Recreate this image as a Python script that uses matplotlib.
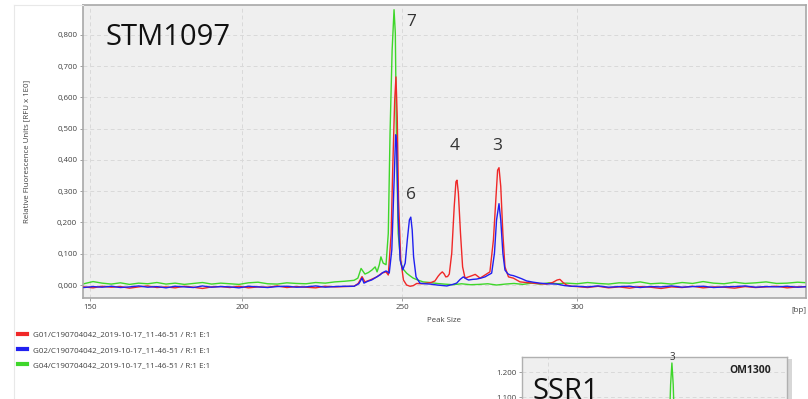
import numpy as np
import matplotlib
matplotlib.use('Agg')
import matplotlib.pyplot as plt
from matplotlib.lines import Line2D
from matplotlib.patches import Rectangle
from matplotlib.ticker import FuncFormatter

plt.rcParams['font.family'] = ['Open Sans', 'DejaVu Sans']

# size ladder -> scan position (the bp axis is not linear)
ladder_bp = [100, 150, 200, 250, 300, 400]
ladder_scan = [-62, 90, 242, 402, 577, 927]

xticks_bp = [150, 200, 250, 300]
yticks_rfu = [0.0, 0.1, 0.2, 0.3, 0.4, 0.5, 0.6, 0.7, 0.8]

sample_labels = ['G01/C190704042_2019-10-17_11-46-51 / R:1 E:1',
                 'G02/C190704042_2019-10-17_11-46-51 / R:1 E:1',
                 'G04/C190704042_2019-10-17_11-46-51 / R:1 E:1']
sample_colors = ['#f02828', '#2020f0', '#3ed62a']

left_bp = [148, 151, 154, 157, 160, 163, 166, 169, 172, 175, 178, 181, 184, 187, 190,
           193, 196, 199, 202, 205, 208, 211, 214, 217, 220, 223, 226, 229, 232]
right_bp = [300, 303, 306, 309, 312, 315, 318, 321, 324, 327, 330, 333, 336, 339, 342,
            345, 348, 351, 354, 357, 360, 363, 366]

# G01 (red)
red_left = [-0.006, -0.009, -0.004, -0.007, -0.005, -0.010, -0.006, -0.003, -0.008, -0.006,
            -0.009, -0.004, -0.007, -0.011, -0.006, -0.005, -0.008, -0.004, -0.009, -0.006,
            -0.007, -0.003, -0.008, -0.005, -0.007, -0.009, -0.004, -0.006, -0.005]
red_mid_bp = [235.0, 236.3, 237.5, 238.4, 240.0, 242.1, 243.7, 245.0, 245.7, 246.6, 247.1,
              247.7, 248.1, 248.5, 248.9, 249.6, 250.4, 251.3, 252.3, 253.2, 254.2, 255.6,
              257.1, 258.3, 259.4, 260.3, 260.9, 261.5, 262.0, 262.5, 263.0, 263.5, 264.2,
              264.9, 265.4, 265.7, 266.1, 266.7, 267.3, 268.0, 269.0, 270.0, 270.9, 271.6,
              272.3, 273.0, 273.7, 275.1, 276.1, 276.9, 277.3, 277.7, 278.2, 278.8, 279.4,
              280.4, 281.8, 283.7, 285.5, 287.5, 289.5, 291.3, 293.0, 294.3, 295.1, 296.0,
              297.0, 298.5]
red_mid = [-0.004, 0.005, 0.027, 0.010, 0.016, 0.026, 0.038, 0.042, 0.032, 0.165, 0.377,
           0.590, 0.665, 0.537, 0.272, 0.080, 0.016, 0.000, -0.004, -0.002, 0.005, 0.004,
           0.006, 0.008, 0.013, 0.028, 0.036, 0.042, 0.036, 0.026, 0.027, 0.035, 0.102,
           0.250, 0.330, 0.335, 0.293, 0.165, 0.058, 0.022, 0.026, 0.030, 0.034, 0.028,
           0.022, 0.027, 0.032, 0.042, 0.144, 0.293, 0.367, 0.375, 0.315, 0.165, 0.058,
           0.026, 0.022, 0.010, 0.008, 0.006, 0.004, 0.003, 0.008, 0.016, 0.018, 0.008,
           0.000, -0.004]
red_right = [-0.005, -0.008, -0.004, -0.009, -0.006, -0.010, -0.005, -0.007, -0.011, -0.006,
             -0.008, -0.004, -0.009, -0.006, -0.007, -0.010, -0.005, -0.008, -0.006, -0.004,
             -0.009, -0.006, -0.005]

# G02 (blue)
blue_left = [-0.008, -0.005, -0.007, -0.004, -0.008, -0.006, -0.003, -0.007, -0.005, -0.009,
             -0.004, -0.006, -0.008, -0.003, -0.007, -0.005, -0.006, -0.009, -0.004, -0.006,
             -0.008, -0.005, -0.004, -0.007, -0.006, -0.003, -0.007, -0.005, -0.004]
blue_mid_bp = [235.0, 236.5, 237.5, 238.1, 239.3, 240.5, 241.8, 243.1, 244.0, 245.0, 246.0,
               246.8, 247.5, 248.0, 248.3, 248.8, 249.4, 250.2, 250.9, 251.5, 252.1, 252.5,
               252.9, 253.3, 254.0, 255.1, 256.5, 258.0, 260.0, 262.8, 264.5, 265.6, 266.6,
               267.5, 268.3, 269.0, 270.2, 271.3, 272.5, 273.7, 275.6, 276.4, 277.0, 277.7,
               278.2, 278.8, 279.4, 280.2, 280.9, 281.8, 282.8, 284.2, 285.6, 287.5, 289.4,
               291.5, 294.2, 296.5, 298.5]
blue_mid = [-0.004, 0.004, 0.022, 0.006, 0.012, 0.016, 0.024, 0.032, 0.040, 0.045, 0.038,
            0.112, 0.326, 0.480, 0.453, 0.217, 0.080, 0.048, 0.070, 0.144, 0.208, 0.217,
            0.176, 0.090, 0.026, 0.006, 0.004, 0.003, 0.000, -0.003, 0.002, 0.006, 0.018,
            0.026, 0.020, 0.016, 0.018, 0.019, 0.022, 0.026, 0.038, 0.102, 0.208, 0.260,
            0.208, 0.102, 0.048, 0.036, 0.032, 0.030, 0.026, 0.020, 0.013, 0.009, 0.006,
            0.004, 0.003, -0.002, -0.004]
blue_right = [-0.004, -0.006, -0.003, -0.007, -0.005, -0.004, -0.008, -0.005, -0.006, -0.003,
              -0.007, -0.005, -0.004, -0.008, -0.006, -0.005, -0.003, -0.007, -0.005, -0.006,
              -0.004, -0.007, -0.005]

# G04 (green)
green_left = [0.004, 0.011, 0.006, 0.003, 0.007, 0.002, 0.006, 0.004, 0.008, 0.003, 0.006,
              0.002, 0.005, 0.008, 0.003, 0.006, 0.004, 0.002, 0.007, 0.009, 0.004, 0.003,
              0.007, 0.005, 0.004, 0.008, 0.006, 0.010, 0.012]
green_mid_bp = [235.0, 236.2, 237.2, 238.4, 239.5, 240.6, 241.6, 242.2, 242.9, 243.4, 244.1,
                245.0, 245.7, 246.25, 246.9, 247.5, 247.9, 248.3, 248.8, 249.6, 250.4, 251.3,
                252.2, 253.2, 254.5, 256.0, 258.0, 260.0, 262.0, 264.5, 267.0, 269.5, 272.0,
                274.5, 277.0, 279.5, 282.0, 284.5, 287.0, 289.5, 292.0, 294.5, 297.0]
green_mid = [0.015, 0.022, 0.053, 0.035, 0.040, 0.048, 0.058, 0.042, 0.065, 0.090, 0.070,
             0.065, 0.165, 0.485, 0.750, 0.880, 0.805, 0.430, 0.165, 0.070, 0.050, 0.038,
             0.030, 0.022, 0.016, 0.010, 0.008, 0.005, 0.003, 0.001, 0.004, 0.001, 0.002,
             0.004, 0.000, 0.003, 0.005, 0.002, 0.006, 0.003, 0.007, 0.004, 0.006]
green_right = [0.004, 0.008, 0.005, 0.003, 0.007, 0.006, 0.010, 0.004, 0.006, 0.003, 0.008,
               0.005, 0.011, 0.006, 0.004, 0.009, 0.005, 0.007, 0.010, 0.005, 0.006, 0.009,
               0.007]

# allele calls written on the chart
allele_text = ['7', '6', '4', '3']
allele_bp = [252.6, 252.6, 264.9, 277.1]
allele_rfu = [0.840, 0.288, 0.444, 0.444]

# second chart peeking in at the bottom right (SSR1 / OM1300)
inset_bp = [195.0, 196.6, 197.2, 197.7, 198.2, 198.8, 200.4]
inset_rfu = [0.50, 0.95, 1.15, 1.236, 1.15, 0.95, 0.50]
inset_yticks = [1.1, 1.2]

W, H = 808, 399


def box(x0, y0, x1, y1):
    return [x0 / W, 1 - y1 / H, (x1 - x0) / W, (y1 - y0) / H]


def fwd(x):
    return np.interp(x, ladder_bp, ladder_scan)


def inv(s):
    return np.interp(s, ladder_scan, ladder_bp)


fig = plt.figure(figsize=(W / 100, H / 100), dpi=100)
fig.patch.set_facecolor('white')

# faint panel frame
fig.add_artist(Line2D([14 / W, 14 / W], [0, 1 - 5 / H], color='#e8e8e8', lw=0.8))
fig.add_artist(Line2D([14 / W, 83 / W], [1 - 5 / H, 1 - 5 / H], color='#e8e8e8', lw=0.8))

ax = fig.add_axes(box(82.7, 5, 806, 298))
ax.set_facecolor('#efefef')
ax.set_xscale('function', functions=(fwd, inv))

traces = [
    (left_bp + red_mid_bp + right_bp, red_left + red_mid + red_right),
    (left_bp + blue_mid_bp + right_bp, blue_left + blue_mid + blue_right),
    (left_bp + green_mid_bp + right_bp, green_left + green_mid + green_right),
]
lines = []
for (xs, ys), col, lab, z in zip(traces, sample_colors, sample_labels, [3, 4, 2]):
    ln, = ax.plot(xs, ys, color=col, lw=1.0, label=lab, zorder=z)
    lines.append(ln)

ax.set_xlim(147.6, 365.4)
ax.set_ylim(-0.0415, 0.895)
ax.set_xticks(xticks_bp)
ax.set_xticklabels([str(v) for v in xticks_bp])
ax.set_yticks(yticks_rfu)
ax.yaxis.set_major_formatter(FuncFormatter(lambda v, p: f'{v:.3f}'.replace('.', ',')))
ax.tick_params(axis='both', labelsize=5.7, labelcolor='#404040', color='#909090',
               length=2.5, width=0.6, pad=1.5)
ax.grid(True, ls=(0, (4, 3)), color='#d9d9d9', lw=0.7)
ax.set_axisbelow(True)
for s in ax.spines.values():
    s.set_color('#a8a8a8')
    s.set_linewidth(1.2)

ax.set_xlabel('Peak Size', fontsize=5.7, color='#404040', labelpad=5)
ax.set_ylabel('Relative Fluorescence Units [RFU x 1E0]', fontsize=5.7, color='#404040',
              labelpad=19)
ax.text(1.0, -0.03, '[bp]', transform=ax.transAxes, ha='right', va='top', fontsize=5.7,
        color='#404040')

ax.text(0.032, 0.8635, 'STM1097', transform=ax.transAxes, fontsize=21, color='#111111',
        ha='left', va='baseline')
for t, xb, yv in zip(allele_text, allele_bp, allele_rfu):
    ax.text(xb, yv, t, fontsize=12.5, color='#333333', ha='center', va='center')

leg = fig.legend(handles=lines, loc='upper left', bbox_to_anchor=(18 / W, 1 - 331 / H),
                 frameon=False, fontsize=5.8, handlelength=1.1, handletextpad=0.75,
                 labelspacing=0.95, borderpad=0, borderaxespad=0)
for h in leg.legend_handles:
    h.set_linewidth(3)
for t in leg.get_texts():
    t.set_color('#404040')

# shadow and the inset chart
fig.add_artist(Rectangle((525 / W, 0), 267 / W, 1 - 359 / H, transform=fig.transFigure,
                         facecolor='#bdbdbd', edgecolor='none', alpha=0.6, zorder=1))
ax2 = fig.add_axes(box(522, 357, 787, 557))
ax2.set_zorder(2)
ax2.set_facecolor('#efefef')
ax2.plot(inset_bp, inset_rfu, color=sample_colors[2], lw=1.0)
ax2.set_xlim(140, 242)
ax2.set_ylim(0.46, 1.26)
ax2.set_xticks([150])
ax2.set_xticklabels([''])
ax2.set_yticks(inset_yticks)
ax2.set_yticklabels([f'{v:.3f}' for v in inset_yticks])
ax2.tick_params(axis='both', labelsize=5.7, labelcolor='#404040', color='#909090',
                length=2.5, width=0.6, pad=1.5)
ax2.grid(True, ls=(0, (4, 3)), color='#d9d9d9', lw=0.7)
ax2.set_axisbelow(True)
for s in ax2.spines.values():
    s.set_color('#b0b0b0')
    s.set_linewidth(1.0)
ax2.text(197.7, 1.26, '3', fontsize=7, color='#333333', ha='center', va='center',
         clip_on=False)
ax2.text(0.86, 0.935, 'OM1300', transform=ax2.transAxes, fontsize=7.5, fontweight='bold',
         color='#222222', ha='center', va='center')
ax2.text(0.04, 0.79, 'SSR1', transform=ax2.transAxes, fontsize=21, color='#111111',
         ha='left', va='baseline')

fig.savefig('out.png', dpi=100)
